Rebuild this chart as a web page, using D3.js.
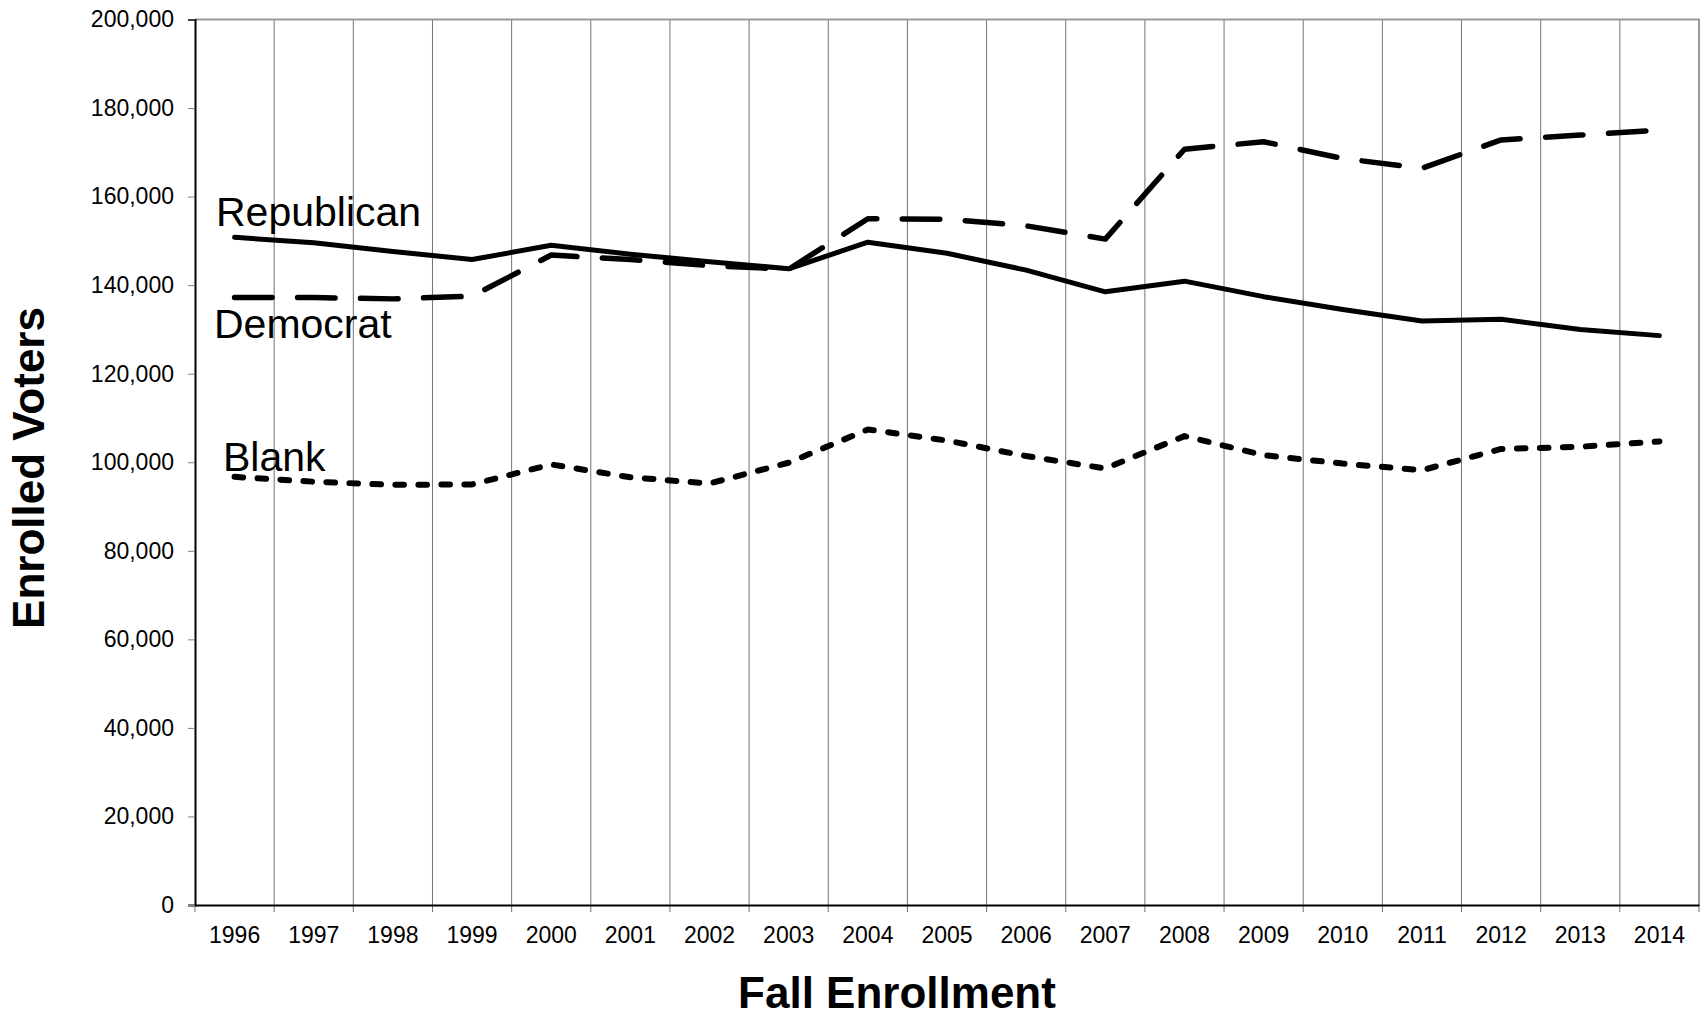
<!DOCTYPE html>
<html>
<head>
<meta charset="utf-8">
<script src="https://cdn.jsdelivr.net/npm/d3@7"></script>
<style>
  body { margin: 0; background: #fff; }
  svg text { font-family: "Liberation Sans", Arial, sans-serif; fill: #000; }
</style>
</head>
<body>
<div id="chart"></div>
<script>
// data
var years = ["1996","1997","1998","1999","2000","2001","2002","2003","2004","2005",
             "2006","2007","2008","2009","2010","2011","2012","2013","2014"];
var republican = [150800,149600,147600,145800,149000,147000,145300,143700,149700,147200,
                  143400,138500,140900,137400,134500,131900,132300,130000,128600];
var democrat = [137200,137200,136900,137500,146800,145800,144400,143600,155000,154900,
                153400,150400,170700,172400,168600,166400,172800,173900,175000];
var blank = [96700,95600,94900,95000,99500,96600,95200,99900,107400,104900,
             101400,98600,105900,101600,99700,98200,103000,103500,104700];
var yTicks = [0,20000,40000,60000,80000,100000,120000,140000,160000,180000,200000];

var W = 1704, H = 1018;
var plotL = 195, plotR = 1699, plotT = 19.5, plotB = 905;

var svg = d3.select("#chart").append("svg")
  .attr("width", W)
  .attr("height", H);

var x = d3.scaleBand().domain(years).range([plotL, plotR]).padding(0);
var y = d3.scaleLinear().domain([0, 200000]).range([plotB, plotT]);

// boundaries between categories
var bounds = years.map(function(d) { return x(d); }).concat([plotR]);

// vertical gridlines
svg.append("g")
  .selectAll("line")
  .data(bounds.slice(1, -1))
  .enter()
  .append("line")
  .attr("x1", function(d) { return d; })
  .attr("x2", function(d) { return d; })
  .attr("y1", plotT)
  .attr("y2", plotB)
  .attr("stroke", "#737373")
  .attr("stroke-width", 1);

// top and right border
svg.append("path")
  .attr("d", "M" + plotL + "," + plotT + "H" + plotR + "V" + plotB)
  .attr("fill", "none")
  .attr("stroke", "#999")
  .attr("stroke-width", 2);

// x ticks at boundaries
svg.append("g")
  .selectAll("line")
  .data(bounds)
  .enter()
  .append("line")
  .attr("x1", function(d) { return d; })
  .attr("x2", function(d) { return d; })
  .attr("y1", plotB)
  .attr("y2", plotB + 7)
  .attr("stroke", "#737373")
  .attr("stroke-width", 1);

// x axis labels
var xAxis = svg.append("g")
  .attr("transform", "translate(0," + plotB + ")")
  .call(d3.axisBottom(x).tickSize(0).tickPadding(0));
xAxis.select(".domain").attr("stroke", "#000").attr("stroke-width", 2);
xAxis.selectAll("text")
  .attr("dy", null)
  .attr("y", 38)
  .style("font-size", "23px");

// y axis
var yAxis = svg.append("g")
  .attr("transform", "translate(" + plotL + ",0)")
  .call(d3.axisLeft(y).tickValues(yTicks).tickFormat(d3.format(",")).tickSize(7).tickPadding(14));
yAxis.select(".domain").attr("stroke", "#000").attr("stroke-width", 2);
yAxis.selectAll(".tick line").attr("stroke", "#808080");
yAxis.selectAll("text").style("font-size", "23px");

// series lines
var line = d3.line()
  .x(function(d, i) { return x(years[i]) + x.bandwidth() / 2; })
  .y(function(d) { return y(d); });

svg.append("path")
  .datum(republican)
  .attr("d", line)
  .attr("fill", "none")
  .attr("stroke", "#000")
  .attr("stroke-width", 5)
  .attr("stroke-linecap", "round")
  .attr("stroke-linejoin", "round");

svg.append("path")
  .datum(democrat)
  .attr("d", line)
  .attr("fill", "none")
  .attr("stroke", "#000")
  .attr("stroke-width", 5.5)
  .attr("stroke-dasharray", "37.5,25.5")
  .attr("stroke-linecap", "round")
  .attr("stroke-linejoin", "round");

svg.append("path")
  .datum(blank)
  .attr("d", line)
  .attr("fill", "none")
  .attr("stroke", "#000")
  .attr("stroke-width", 6)
  .attr("stroke-dasharray", "8.6,14.4")
  .attr("stroke-linecap", "round")
  .attr("stroke-linejoin", "round");

// series labels
svg.append("text").attr("x", 216).attr("y", 226).style("font-size", "41px").text("Republican");
svg.append("text").attr("x", 214).attr("y", 338).style("font-size", "41px").text("Democrat");
svg.append("text").attr("x", 223).attr("y", 471).style("font-size", "41px").text("Blank");

// axis titles
svg.append("text")
  .attr("x", 897)
  .attr("y", 1008)
  .attr("text-anchor", "middle")
  .style("font-size", "44px")
  .style("font-weight", "bold")
  .text("Fall Enrollment");

svg.append("text")
  .attr("transform", "translate(44,468) rotate(-90)")
  .attr("text-anchor", "middle")
  .style("font-size", "44px")
  .style("font-weight", "bold")
  .text("Enrolled Voters");
</script>
</body>
</html>
